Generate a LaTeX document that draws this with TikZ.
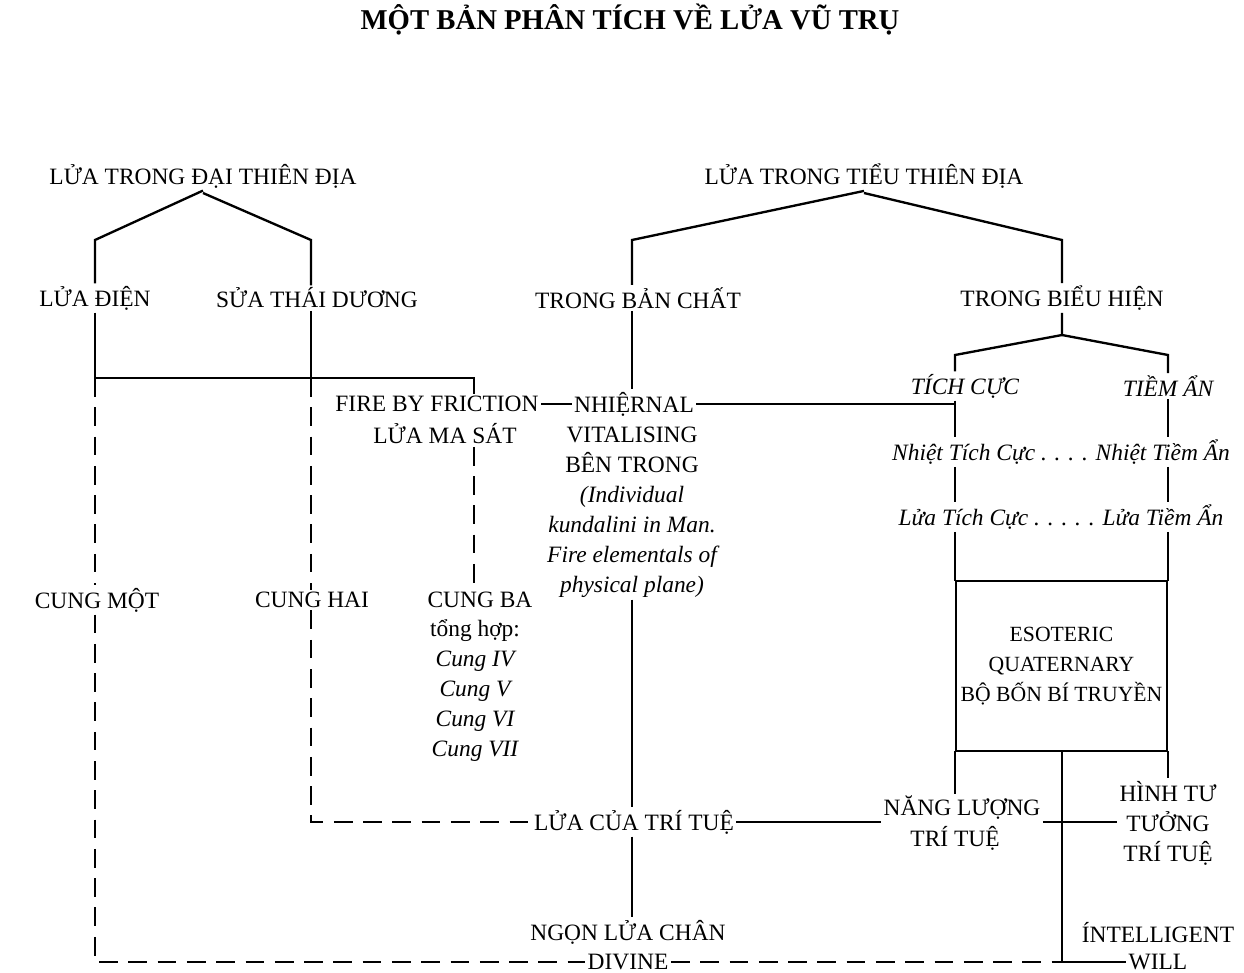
\documentclass[tikz,border=0pt]{standalone}
\usepackage{fontspec}
\setmainfont{Liberation Serif}
\usetikzlibrary{positioning}

\begin{document}
\begin{tikzpicture}[
  x=0.03cm, y=-0.03cm,
  lbl/.style={inner sep=2pt, font=\fontsize{20}{25.6}\selectfont, align=center},
  itl/.style={lbl, font=\fontsize{20}{25.6}\selectfont\itshape},
  ln/.style={line width=2pt},
  dsh/.style={ln, dash pattern=on 16pt off 9pt}
]
\useasboundingbox (0,0) rectangle (1244,972);

% Title
\node[lbl, font=\fontsize{24.5}{28}\selectfont\bfseries] (title) at (630,20) {MỘT BẢN PHÂN TÍCH VỀ LỬA VŨ TRỤ};

% Left tree
\node[lbl] (macro) at (203,176) {LỬA TRONG ĐẠI THIÊN ĐỊA};
\node[lbl] (elec) at (95,298) {LỬA ĐIỆN};
\node[lbl] (solar) at (317,298) {SỬA THÁI DƯƠNG};
\node[lbl] (fric) at (437,404) {FIRE BY FRICTION};
\node[lbl] (masat) at (445,434) {LỬA MA SÁT};
\node[lbl] (ray1) at (97,600) {CUNG MỘT};
\node[lbl] (ray2) at (312,600) {CUNG HAI};
\node[lbl] (ray3) at (480,600) {CUNG BA};
\node[lbl, anchor=north] (synth) at (475,617) {tổng hợp:\\\itshape Cung IV\\\itshape Cung V\\\itshape Cung VI\\\itshape Cung VII};

% Right tree
\node[lbl] (micro) at (864,176) {LỬA TRONG TIỂU THIÊN ĐỊA};
\node[lbl] (essence) at (638,298) {TRONG BẢN CHẤT};
\node[lbl] (manif) at (1062,298) {TRONG BIỂU HIỆN};
\node[lbl] (nhi) at (634,404) {NHIỆRNAL};
\node[lbl, anchor=north] (vital) at (632,424) {VITALISING\\BÊN TRONG\\\itshape (Individual\\\itshape kundalini in Man.\\\itshape Fire elementals of\\\itshape physical plane)};
\node[itl] (active) at (965,386) {TÍCH CỰC};
\node[itl] (latent) at (1168,386) {TIỀM ẨN};
\node[itl] (heat) at (1061,452) {Nhiệt Tích Cực . . . . Nhiệt Tiềm Ẩn};
\node[itl] (fire) at (1061,517) {Lửa Tích Cực . . . . . Lửa Tiềm Ẩn};
\node[lbl, font=\fontsize{18.5}{25.6}\selectfont, draw, line width=2pt, minimum width=211*0.03cm,
  minimum height=170*0.03cm, inner sep=0pt, outer sep=0pt]
  (quat) at (1061.5,666) {ESOTERIC\\QUATERNARY\\BỘ BỐN BÍ TRUYỀN};
\node[lbl] (mind) at (634,822) {LỬA CỦA TRÍ TUỆ};
\node[lbl] (energy) at (962,808) {NĂNG LƯỢNG};
\node[lbl] (energy2) at (955,838) {TRÍ TUỆ};
\node[lbl] (form) at (1168,823) {HÌNH TƯ\\TƯỞNG\\TRÍ TUỆ};
\node[lbl] (flame) at (628,932) {NGỌN LỬA CHÂN};
\node[lbl] (divine) at (628,962) {DIVINE};
\node[lbl] (intel) at (1158,933) {ÍNTELLIGENT};
\node[lbl] (will) at (1158,962) {WILL};

% Bend points
\coordinate (mapex) at (203,193);
\coordinate (mL) at (95,240);
\coordinate (mR) at (311,240);
\coordinate (uapex) at (864,193);
\coordinate (uL) at (632,240);
\coordinate (uR) at (1062,240);
\coordinate (elecT) at (95,378);
\coordinate (fricT) at (474,378);
\coordinate (solarT) at (311,378);
\coordinate (solarB) at (311,822);
\coordinate (elecB) at (95,962);
\coordinate (bsplit) at (1062,335);
\coordinate (aT) at (955,355);
\coordinate (lT) at (1168,355);
\coordinate (qBot) at (1062,752);
\coordinate (qCross) at (1062,822);
\coordinate (qEnd) at (1062,962);

% Roofs
\draw[ln] (macro.south -| mapex) -- (mL) -- (elec.north -| mL);
\draw[ln] (mapex) -- (mR) -- (solar.north -| mR);
\draw[ln] (micro.south -| uapex) -- (uL) -- (essence.north -| uL);
\draw[ln] (uapex) -- (uR) -- (manif.north -| uR);
\draw[ln] (manif.south -| bsplit) -- (bsplit) -- (aT) -- (active.north -| aT);
\draw[ln] (bsplit) -- (lT) -- (latent.north -| lT);

% Left connectors
\draw[ln] (elec.south -| elecT) -- (elecT) -- (fricT) -- (fricT |- fric.north);
\draw[ln] (solar.south -| solarT) -- (solarT);
\draw[dsh] (elecT) -- (ray1.north -| elecT);
\draw[dsh] (ray1.south -| elecT) -- (elecB) -- (divine.west);
\draw[dsh] (solarT) -- (ray2.north -| solarT);
\draw[dsh] (ray2.south -| solarT) -- (solarB) -- (mind.west);
\draw[dsh] (masat.south -| fricT) -- (ray3.north -| fricT);

% Middle connectors
\draw[ln] (essence.south -| uL) -- (nhi.north -| uL);
\draw[ln] (fric.east) -- (nhi.west);
\draw[ln] (nhi.east) -- (nhi.east -| aT);
\draw[ln] (vital.south -| uL) -- (mind.north -| uL);
\draw[ln] (mind.south -| uL) -- (flame.north -| uL);
\draw[ln] (mind.east) -- (mind.east -| energy.west);
\draw[dsh] (divine.east) -- (qEnd);
\draw[ln] (qEnd) -- (will.west);

% Right column
\draw[ln] (active.south -| aT) -- (heat.north -| aT);
\draw[ln] (heat.south -| aT) -- (fire.north -| aT);
\draw[ln] (fire.south -| aT) -- (quat.north -| aT);
\draw[ln] (latent.south -| lT) -- (heat.north -| lT);
\draw[ln] (heat.south -| lT) -- (fire.north -| lT);
\draw[ln] (fire.south -| lT) -- (quat.north -| lT);
\draw[ln] (quat.south -| aT) -- (energy.north -| aT);
\draw[ln] (quat.south -| lT) -- (form.north -| lT);
\draw[ln] (qBot) -- (qEnd);
\draw[ln] (energy.east |- qCross) -- (form.west |- qCross);
\end{tikzpicture}
\end{document}
